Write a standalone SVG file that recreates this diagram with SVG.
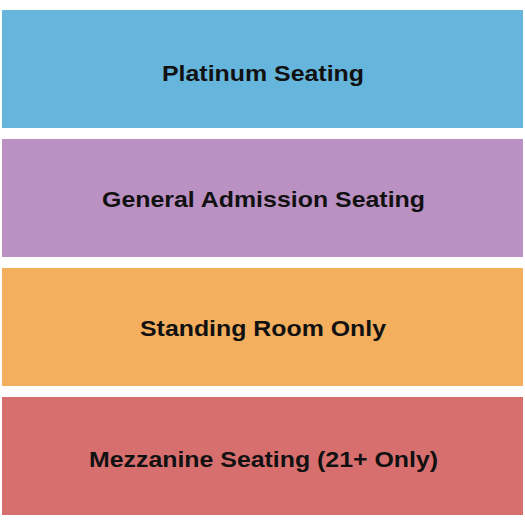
<svg xmlns="http://www.w3.org/2000/svg" width="525" height="525" viewBox="0 0 525 525">
<style>
.sec{stroke:none}
.lbl{font-family:"Liberation Sans",Arial,sans-serif;font-weight:bold;font-size:21.5px;fill:#111;text-anchor:middle}
</style>
<rect width="525" height="525" fill="#fff"/>
<g id="platinum"><rect class="sec" x="2" y="10" width="521" height="118" fill="#65b5dc"/><text class="lbl" x="263" y="80.5" textLength="202" lengthAdjust="spacingAndGlyphs">Platinum Seating</text></g>
<g id="general"><rect class="sec" x="2" y="139" width="521" height="118" fill="#bb91c3"/><text class="lbl" x="263.5" y="206.5" textLength="323" lengthAdjust="spacingAndGlyphs">General Admission Seating</text></g>
<g id="standing"><rect class="sec" x="2" y="268" width="521" height="118" fill="#f3ae5e"/><text class="lbl" x="263" y="335.5" textLength="246" lengthAdjust="spacingAndGlyphs">Standing Room Only</text></g>
<g id="mezzanine"><rect class="sec" x="2" y="397" width="521" height="118" fill="#d86f6f"/><text class="lbl" x="263.5" y="466.5" textLength="349" lengthAdjust="spacingAndGlyphs">Mezzanine Seating (21+ Only)</text></g>
<g id="connectors"/>
</svg>
